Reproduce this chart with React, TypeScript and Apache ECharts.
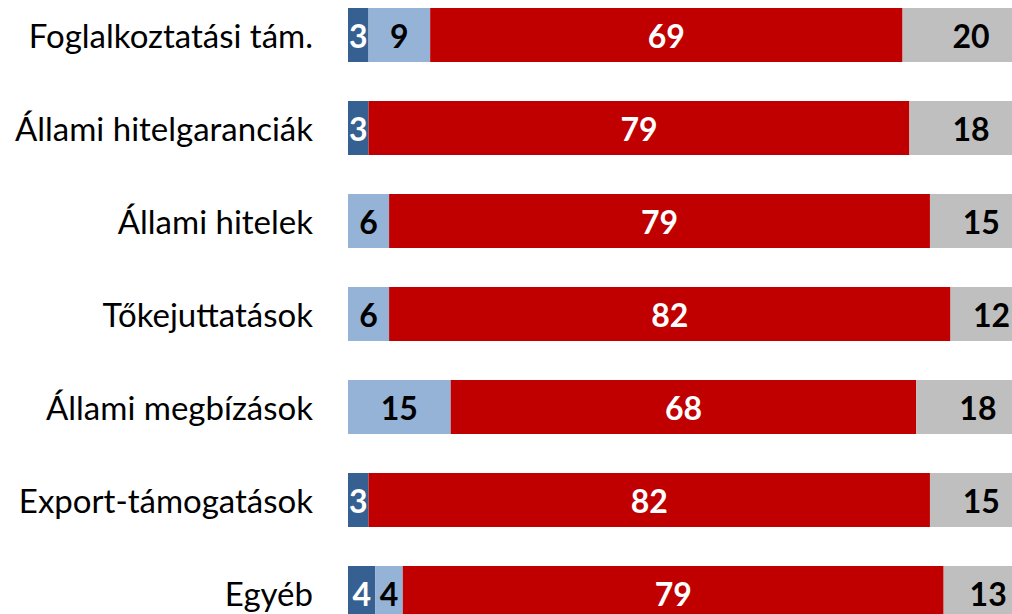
import React, { useEffect, useRef } from "react";
import * as echarts from "echarts";

const categories = [
  "Foglalkoztatási tám.",
  "Állami hitelgaranciák",
  "Állami hitelek",
  "Tőkejuttatások",
  "Állami megbízások",
  "Export-támogatások",
  "Egyéb",
];

const seriesNames = ["A", "B", "C", "D"];
const darkBlue = [3, 3, 0, 0, 0, 3, 4];
const lightBlue = [9, 0, 6, 6, 15, 0, 4];
const red = [69, 79, 79, 82, 68, 82, 79];
const gray = [20, 18, 15, 12, 18, 15, 13];

const colors = ["#376092", "#95B3D7", "#C00000", "#BFBFBF"];
const labelColors = ["#ffffff", "#000000", "#ffffff", "#000000"];

export default function App() {
  const ref = useRef<HTMLDivElement>(null);
  useEffect(() => {
    if (!ref.current) return;
    const chart = echarts.init(ref.current, null, { renderer: "svg" });
    const data = [darkBlue, lightBlue, red, gray];
    chart.setOption({
      animation: false,
      grid: { left: 348, width: 691.5, top: 8.5, height: 651 },
      xAxis: {
        type: "value",
        min: 0,
        max: 101,
        show: false,
      },
      yAxis: {
        type: "category",
        data: categories,
        inverse: true,
        axisLine: { show: false },
        axisTick: { show: false },
        splitLine: { show: false },
        axisLabel: {
          margin: 35,
          fontFamily: "Lato",
          fontSize: 33,
          color: "#000000",
        },
      },
      series: data.map((vals, i) => ({
        name: seriesNames[i],
        type: "bar",
        stack: "total",
        barWidth: 54,
        itemStyle: { color: colors[i] },
        label: {
          show: true,
          position: "inside",
          fontFamily: "Lato",
          fontWeight: "bold",
          fontSize: 32,
          color: labelColors[i],
          formatter: (p: any) => (p.value > 0 ? String(p.value) : ""),
        },
        data: vals.map((v) => (v > 0 ? v : null)),
      })),
    });
    return () => chart.dispose();
  }, []);
  return (
    <div
      ref={ref}
      style={{ position: "fixed", left: 0, top: -20, width: 1070, height: 680, background: "#ffffff" }}
    />
  );
}
